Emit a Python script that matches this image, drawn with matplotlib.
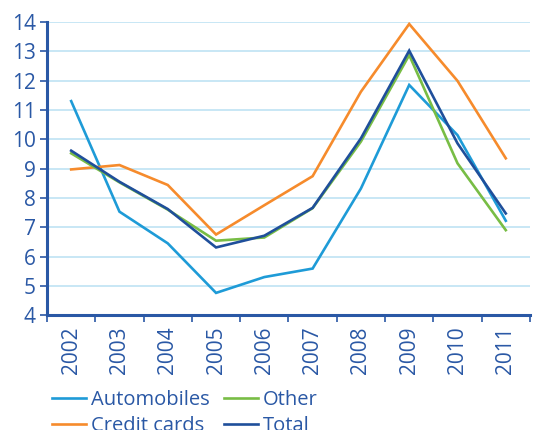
import matplotlib
matplotlib.use("Agg")
import matplotlib.pyplot as plt

years = ["2002", "2003", "2004", "2005", "2006", "2007", "2008", "2009", "2010", "2011"]
automobiles = [11.3, 7.53, 6.45, 4.76, 5.3, 5.59, 8.32, 11.85, 10.14, 7.22]
credit_cards = [8.97, 9.12, 8.44, 6.75, 7.75, 8.74, 11.62, 13.93, 11.99, 9.35]
other = [9.52, 8.53, 7.6, 6.54, 6.65, 7.65, 9.92, 12.87, 9.18, 6.9]
total = [9.61, 8.55, 7.62, 6.31, 6.71, 7.66, 10.03, 13.02, 9.86, 7.47]

TEXT = "#2a58a5"
SPINE = "#2a58a5"
GRID = "#bfe3f4"
colors = {
    "Automobiles": "#1e9bd7",
    "Other": "#78bd45",
    "Credit cards": "#f68b2c",
    "Total": "#1f4f9b",
}

plt.rcParams["font.family"] = ["Open Sans", "DejaVu Sans"]

fig = plt.figure(figsize=(5.5, 4.3), dpi=100)
ax = fig.add_axes([0.0855, 0.267, 0.878, 0.682])

x = list(range(len(years)))
series = [("Automobiles", automobiles), ("Credit cards", credit_cards),
          ("Other", other), ("Total", total)]
lines = {}
for name, vals in series:
    (ln,) = ax.plot(x, vals, color=colors[name], lw=1.9, label=name,
                    solid_joinstyle="miter")
    lines[name] = ln

ax.set_xlim(-0.5, len(years) - 0.5)
ax.set_ylim(4, 14)
ax.set_yticks(range(4, 15))
ax.yaxis.grid(True, color=GRID, lw=1.2)
ax.set_axisbelow(True)

ax.set_xticks(x)
ax.set_xticklabels(years, rotation=90)
ax.set_xticks([i - 0.5 for i in range(len(years) + 1)], minor=True)
ax.tick_params(axis="x", which="major", length=0, pad=8, labelsize=15, labelcolor=TEXT)
ax.tick_params(axis="x", which="minor", length=5, width=1.2, color=SPINE)
ax.tick_params(axis="y", length=5, width=1.2, color=SPINE, labelsize=15,
               labelcolor=TEXT, pad=3)

for side in ("top", "right"):
    ax.spines[side].set_visible(False)
for side in ("left", "bottom"):
    ax.spines[side].set_color(SPINE)
    ax.spines[side].set_linewidth(2.2)

order = ["Automobiles", "Credit cards", "Other", "Total"]
leg = fig.legend([lines[n] for n in order], order, loc="upper left",
                 bbox_to_anchor=(0.094, 0.094), ncol=2, frameon=False,
                 fontsize=14.5, handlelength=1.7, handletextpad=0.25,
                 columnspacing=0.7, labelspacing=0.3, borderaxespad=0,
                 borderpad=0)
for t in leg.get_texts():
    t.set_color(TEXT)

fig.savefig("out.png", dpi=100)
